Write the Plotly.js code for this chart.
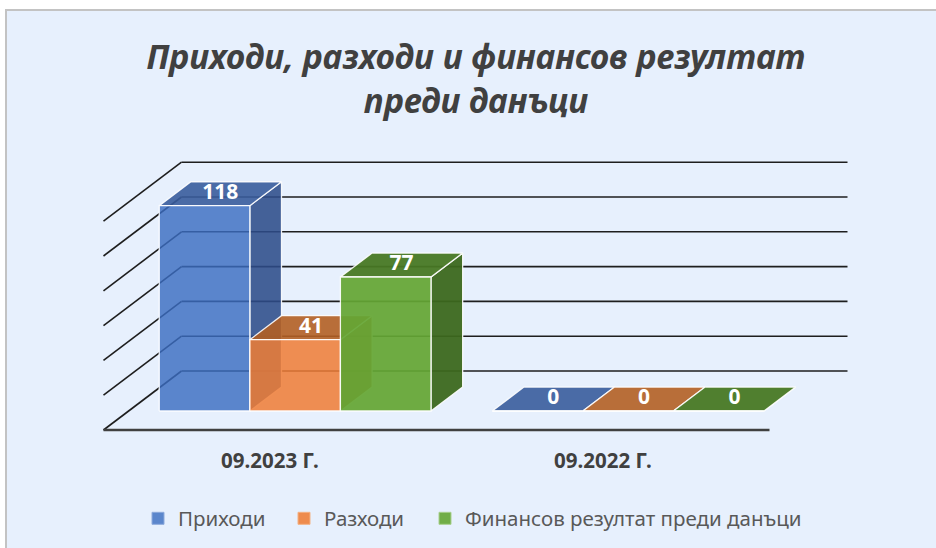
<!DOCTYPE html>
<html>
<head>
<meta charset="utf-8">
<script src="https://cdn.plot.ly/plotly-3.0.1.min.js"></script>
<style>
html, body { margin: 0; padding: 0; background: #ffffff; }
#chart { width: 936px; height: 548px; }
</style>
</head>
<body>
<div id="chart"></div>
<script>
// ---- data ----
const categories = ['09.2023 Г.', '09.2022 Г.'];
const seriesNames = ['Приходи', 'Разходи', 'Финансов резултат преди данъци'];
const prihodi = [118, 0];
const razhodi = [41, 0];
const finRezultat = [77, 0];
const gridValues = [0, 20, 40, 60, 80, 100, 120];
const titleText = 'Приходи, разходи и финансов резултат<br>преди данъци';

// ---- styling / geometry ----
const W = 936, H = 548;
const PX_PER_CAT = 333, X0_PX = 270;        // pixel of category 0 at floor front
const PX_PER_UNIT = 1.74, FLOOR_Y_PX = 430;  // pixel of value 0 at floor front
const DX = 78 / PX_PER_CAT;                  // full depth in x units
const DY = 59 / PX_PER_UNIT;                 // full depth in value units
const F0 = 0.322, F1 = 0.728;                // bar depth span (fraction of full depth)
const BW = 0.272;                            // bar width in category units

const colors = {
  front: ['rgba(58,108,193,0.82)', 'rgba(239,125,53,0.86)', 'rgba(100,166,52,0.93)'],
  side:  ['rgba(45,76,138,0.88)',  'rgba(170,85,30,0.88)',  'rgba(60,104,30,0.95)'],
  top:   ['rgba(56,92,156,0.9)',   'rgba(179,95,36,0.9)',   'rgba(72,120,36,0.95)'],
  legend:['#5b86cc', '#ee8b4d', '#70ad47'],
  legendLine:['#8eaadb', '#f4b183', '#a9d08e']
};

const seriesValues = [prihodi, razhodi, finRezultat];
const traces = [];

// walls
const xL = -0.5, xR = categories.length - 0.5;
const wallX = [], wallY = [];
gridValues.forEach(g => {
  wallX.push(xL + DX, xR + DX, null); wallY.push(g + DY, g + DY, null);
  wallX.push(xL, xL + DX, null); wallY.push(g, g + DY, null);
});
traces.push({type: 'scatter', mode: 'lines', x: wallX, y: wallY,
  line: {color: '#1e1e1e', width: 1.6}, hoverinfo: 'skip', showlegend: false});
traces.push({type: 'scatter', mode: 'lines', x: [xL, xR], y: [0, 0],
  line: {color: '#404040', width: 2.6}, hoverinfo: 'skip', showlegend: false});

// bars
const ddx = (F1 - F0) * DX, ddy = (F1 - F0) * DY, base = F0 * DY;
const labX = [], labY = [], labT = [];
seriesValues.forEach((vals, j) => {
  const sx = [], sy = [], tx = [], ty = [], fx = [], fy = [];
  vals.forEach((v, i) => {
    const xl = i + (j - 1.5) * BW + F0 * DX, xr = xl + BW;
    sx.push(xr, xr + ddx, xr + ddx, xr, xr, null);
    sy.push(base, base + ddy, base + v + ddy, base + v, base, null);
    tx.push(xl, xr, xr + ddx, xl + ddx, xl, null);
    ty.push(base + v, base + v, base + v + ddy, base + v + ddy, base + v, null);
    fx.push(xl, xr, xr, xl, xl, null);
    fy.push(base, base, base + v, base + v, base, null);
    labX.push((xl + xr) / 2 + ddx / 2);
    labY.push(base + v + ddy / 2);
    labT.push(String(v));
  });
  const common = {type: 'scatter', mode: 'lines', fill: 'toself', hoverinfo: 'skip',
    showlegend: false, line: {color: 'rgba(255,255,255,0.9)', width: 1.3}};
  traces.push(Object.assign({}, common, {x: sx, y: sy, fillcolor: colors.side[j]}));
  traces.push(Object.assign({}, common, {x: tx, y: ty, fillcolor: colors.top[j]}));
  traces.push(Object.assign({}, common, {x: fx, y: fy, fillcolor: colors.front[j]}));
});

// data labels
traces.push({type: 'scatter', mode: 'text', x: labX, y: labY, text: labT,
  textposition: 'middle center', hoverinfo: 'skip', showlegend: false,
  textfont: {family: 'Noto Sans', size: 21, color: '#ffffff', weight: 700}});

// legend entries
const legendWidths = [101, 96, undefined];
seriesNames.forEach((name, j) => {
  const t = {type: 'scatter', mode: 'markers', x: [null], y: [null], name: name,
    marker: {symbol: 'square', size: 12, color: colors.legend[j],
      line: {color: colors.legendLine[j], width: 1}}, hoverinfo: 'skip'};
  if (legendWidths[j]) t.legendwidth = legendWidths[j];
  traces.push(t);
});

const layout = {
  width: W, height: H,
  margin: {l: 0, r: 0, t: 0, b: 0, pad: 0},
  paper_bgcolor: '#ffffff',
  plot_bgcolor: 'rgba(0,0,0,0)',
  showlegend: true,
  font: {family: 'Noto Sans', color: '#404040'},
  title: {text: titleText, x: 476 / W, xanchor: 'center', xref: 'paper',
    y: 1 - 69 / H, yanchor: 'top', yref: 'container',
    font: {family: 'Noto Sans', size: 33.5, color: '#404040', weight: 700, style: 'italic'}},
  xaxis: {range: [-X0_PX / PX_PER_CAT, (W - X0_PX) / PX_PER_CAT], visible: false, fixedrange: true},
  yaxis: {range: [(FLOOR_Y_PX - H) / PX_PER_UNIT, FLOOR_Y_PX / PX_PER_UNIT], visible: false, fixedrange: true},
  shapes: [{type: 'rect', xref: 'paper', yref: 'paper', layer: 'below',
    x0: 6 / W, x1: 1.02, y0: -0.02, y1: 1 - 10 / H,
    fillcolor: '#e7f0fd', line: {color: '#c3c3c3', width: 2}}],
  annotations: categories.map((c, i) => ({
    text: c, x: i, y: 0, xref: 'x', yref: 'y', xshift: 0, yshift: -30,
    showarrow: false, xanchor: 'center', yanchor: 'middle',
    font: {family: 'Noto Sans', size: 20.5, color: '#404040', weight: 700}})),
  legend: {orientation: 'h', x: 138 / W, xanchor: 'left', y: 1 - 518.5 / H, yanchor: 'middle',
    bgcolor: 'rgba(0,0,0,0)', font: {family: 'Noto Sans', size: 20.5, color: '#595959'},
    traceorder: 'normal', itemclick: false, itemdoubleclick: false}
};

Plotly.newPlot('chart', traces, layout, {displayModeBar: false, staticPlot: true});
</script>
</body>
</html>
